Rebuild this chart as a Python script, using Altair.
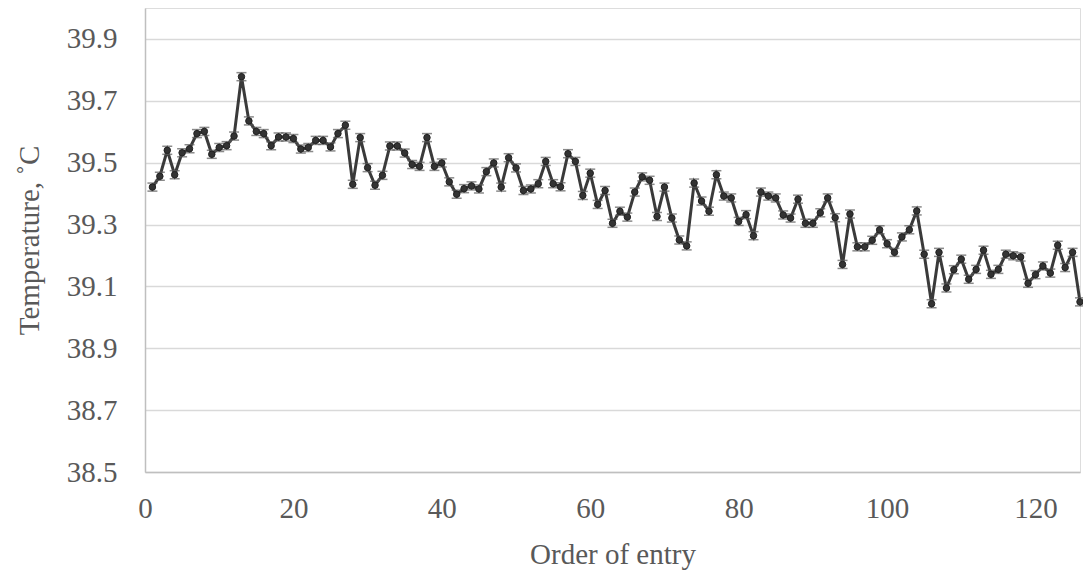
import altair as alt
import pandas as pd

entry = list(range(1, 127))
temp = [
    39.421, 39.456, 39.540, 39.461, 39.532, 39.545, 39.594, 39.601, 39.527, 39.549,
    39.555, 39.586, 39.778, 39.635, 39.601, 39.594, 39.555, 39.583, 39.583, 39.578,
    39.544, 39.549, 39.572, 39.572, 39.551, 39.594, 39.621, 39.430, 39.581, 39.484,
    39.427, 39.459, 39.554, 39.554, 39.531, 39.494, 39.488, 39.581, 39.488, 39.499,
    39.438, 39.398, 39.416, 39.425, 39.415, 39.471, 39.499, 39.421, 39.516, 39.483,
    39.410, 39.415, 39.432, 39.504, 39.432, 39.422, 39.529, 39.504, 39.394, 39.466,
    39.365, 39.410, 39.304, 39.343, 39.324, 39.405, 39.454, 39.443, 39.326, 39.421,
    39.321, 39.250, 39.231, 39.434, 39.376, 39.343, 39.461, 39.392, 39.386, 39.310,
    39.332, 39.264, 39.405, 39.392, 39.386, 39.331, 39.321, 39.382, 39.304, 39.304,
    39.338, 39.386, 39.322, 39.171, 39.334, 39.228, 39.228, 39.249, 39.283, 39.238,
    39.210, 39.260, 39.283, 39.344, 39.204, 39.044, 39.210, 39.095, 39.154, 39.188,
    39.123, 39.155, 39.217, 39.139, 39.155, 39.204, 39.199, 39.195, 39.110, 39.138,
    39.166, 39.143, 39.233, 39.161, 39.210, 39.050,
]
err = [0.013] * len(temp)
x_ticks = [0, 20, 40, 60, 80, 100, 120]
y_ticks = [38.5, 38.7, 38.9, 39.1, 39.3, 39.5, 39.7, 39.9]

df = pd.DataFrame({"entry": entry, "temp": temp, "err": err})
df["lo"] = df["temp"] - df["err"]
df["hi"] = df["temp"] + df["err"]

FONT = "Liberation Serif"

x = alt.X(
    "entry:Q",
    title="Order of entry",
    scale=alt.Scale(domain=[0, 126], nice=False, zero=False),
    axis=alt.Axis(
        values=x_ticks, grid=False, ticks=False, domainColor="#bfbfbf", domainWidth=1.5,
        labelFont=FONT, labelFontSize=29, labelColor="#595959", labelPadding=22,
        titleFont=FONT, titleFontSize=29, titleColor="#595959", titleFontWeight="normal",
        titlePadding=17, labelFlush=False,
    ),
)
y = alt.Y(
    "temp:Q",
    title="Temperature, ˚C",
    scale=alt.Scale(domain=[38.5, 40.0], nice=False, zero=False),
    axis=alt.Axis(
        values=y_ticks, format=".1f", grid=True, gridColor="#d9d9d9", gridWidth=1.5,
        ticks=False, domainColor="#bfbfbf", domainWidth=1.5,
        labelFont=FONT, labelFontSize=29, labelColor="#595959", labelPadding=28,
        titleFont=FONT, titleFontSize=29, titleColor="#595959", titleFontWeight="normal",
        titlePadding=22,
    ),
)

base = alt.Chart(df)
line = base.mark_line(color="#3a3a3a", strokeWidth=3).encode(x=x, y=y)
bars = base.mark_rule(color="#595959", strokeWidth=1.5).encode(x="entry:Q", y="lo:Q", y2="hi:Q")
cap_lo = base.mark_tick(color="#595959", thickness=1.5, size=10, orient="horizontal").encode(x="entry:Q", y="lo:Q")
cap_hi = base.mark_tick(color="#595959", thickness=1.5, size=10, orient="horizontal").encode(x="entry:Q", y="hi:Q")
pts = base.mark_point(filled=True, shape="circle", size=42, color="#333333", opacity=1,
                      stroke="#222222", strokeWidth=1).encode(x="entry:Q", y="temp:Q")

chart = alt.layer(line, bars, cap_lo, cap_hi, pts).properties(
    width=935, height=464,
    padding={"left": 145, "top": 8, "right": 3, "bottom": 105},
    autosize=alt.AutoSizeParams(type="none"),
).configure_view(stroke=None).configure(background="white")

chart.save("out.html", embed_options={"renderer": "svg", "actions": False})
